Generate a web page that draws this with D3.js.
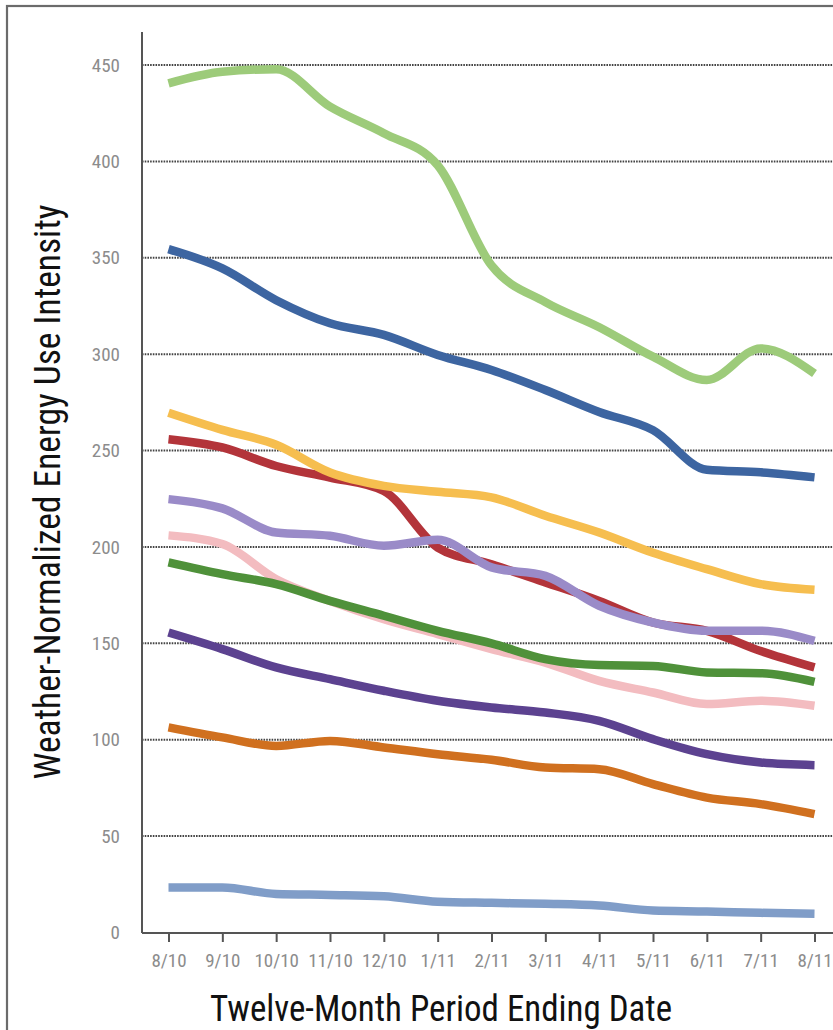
<!DOCTYPE html>
<html>
<head>
<meta charset="utf-8">
<script src="https://cdn.jsdelivr.net/npm/d3@7/dist/d3.min.js"></script>
<style>
  html, body { margin: 0; padding: 0; background: #fff; }
  svg { display: block; }
  .narrow { font-family: 'Liberation Sans Narrow', 'Arial Narrow', 'Roboto Condensed', sans-serif; }
</style>
</head>
<body>
<svg id="chart" width="833" height="1030"></svg>
<script>
const categories = ["8/10","9/10","10/10","11/10","12/10","1/11","2/11","3/11","4/11","5/11","6/11","7/11","8/11"];
const yTicks = [0, 50, 100, 150, 200, 250, 300, 350, 400, 450];

const lightBlue   = [23.4, 23.4, 20, 19.5, 18.8, 16, 15.4, 14.9, 14, 11.4, 10.9, 10.2, 9.7];
const orange      = [106.4, 101.2, 96.8, 99.4, 96, 92.5, 89.6, 85.6, 84.7, 77, 70, 66.6, 61.4];
const darkPurple  = [155.6, 147, 137.5, 131.4, 125.4, 120.2, 116.7, 114.1, 109.8, 100.3, 92.5, 88.2, 86.8];
const pink        = [206, 201.5, 183.3, 172, 162.5, 154.8, 147, 140, 130.5, 124.5, 118.5, 120.2, 117.6];
const darkGreen   = [192, 185.9, 180.7, 172, 164.3, 156.5, 150, 141.8, 138.7, 138.3, 134.9, 134.5, 130];
const red         = [255.9, 251.6, 242, 236, 229, 199.7, 191, 181.6, 172, 160.8, 156.5, 146, 137.5];
const yellow      = [269.6, 260.7, 253, 238.6, 231.7, 228.6, 225.7, 216.2, 207.5, 197, 188.5, 180.7, 177.8];
const lightPurple = [224.8, 220, 207.5, 205.8, 200.6, 203.7, 189.4, 185, 169.5, 160.8, 156.5, 156.5, 151.3];
const blue        = [354.5, 344.5, 328, 316, 310, 299.6, 291.8, 281.4, 270, 260.6, 240, 238.7, 236.1];
const lightGreen  = [440.5, 446.5, 447.8, 428.4, 414.6, 398, 346, 327, 314, 298.7, 286.6, 303, 290];

const seriesList = [
  { name: "lightBlue", values: lightBlue, color: "#809dc8" },
  { name: "orange", values: orange, color: "#d0701f" },
  { name: "darkPurple", values: darkPurple, color: "#5c4290" },
  { name: "pink", values: pink, color: "#f3bcc0" },
  { name: "darkGreen", values: darkGreen, color: "#4f913a" },
  { name: "red", values: red, color: "#b3343a" },
  { name: "yellow", values: yellow, color: "#f6be4f" },
  { name: "lightPurple", values: lightPurple, color: "#9a8bc8" },
  { name: "blue", values: blue, color: "#3d65a1" },
  { name: "lightGreen", values: lightGreen, color: "#9dcb7a" }
];

const svg = d3.select("#chart");

// frame
svg.append("rect")
  .attr("x", 7).attr("y", 6).attr("width", 900).attr("height", 1100)
  .attr("fill", "none").attr("stroke", "#6b6b6b").attr("stroke-width", 2.2);

const x = d3.scalePoint().domain(categories).range([168.5, 814.5]);
const y = d3.scaleLinear().domain([0, 450]).range([932.5, 65]);
const axisX0 = 142, axisRight = 833;

// gridlines
svg.append("g").selectAll("line")
  .data(yTicks.filter(d => d > 0))
  .join("line")
  .attr("x1", axisX0).attr("x2", axisRight)
  .attr("y1", d => y(d)).attr("y2", d => y(d))
  .attr("stroke", "#444").attr("stroke-width", 2)
  .attr("stroke-dasharray", "1.6,1.1");

// y axis
const yAxis = d3.axisLeft(y).tickValues(yTicks).tickSize(0).tickPadding(22);
const gy = svg.append("g").attr("transform", `translate(${axisX0},0)`).call(yAxis);
gy.select(".domain").remove();
gy.selectAll("text").attr("class", "narrow").attr("font-size", 19).attr("fill", "#8c8c8c");
svg.append("line").attr("x1", axisX0).attr("x2", axisX0).attr("y1", 32).attr("y2", 933)
  .attr("stroke", "#555").attr("stroke-width", 2);

// x axis
const xAxis = d3.axisBottom(x).tickSize(9).tickPadding(12);
const gx = svg.append("g").attr("transform", `translate(0,933)`).call(xAxis);
gx.select(".domain").remove();
gx.selectAll(".tick line").attr("stroke", "#555").attr("stroke-width", 2);
gx.selectAll("text").attr("class", "narrow").attr("font-size", 19).attr("fill", "#8c8c8c");
svg.append("line").attr("x1", axisX0).attr("x2", axisRight).attr("y1", 933).attr("y2", 933)
  .attr("stroke", "#555").attr("stroke-width", 2);

// lines
const line = d3.line()
  .x((d, i) => x(categories[i]))
  .y(d => y(d))
  .curve(d3.curveMonotoneX);

svg.append("g").selectAll("path")
  .data(seriesList)
  .join("path")
  .attr("d", d => line(d.values))
  .attr("fill", "none")
  .attr("stroke", d => d.color)
  .attr("stroke-width", 8.5)
  .attr("stroke-linejoin", "round")
  .attr("stroke-linecap", "butt");

// titles
svg.append("text")
  .attr("class", "narrow")
  .attr("x", 441).attr("y", 1021)
  .attr("text-anchor", "middle")
  .attr("font-size", 36)
  .attr("fill", "#111")
  .attr("textLength", 462).attr("lengthAdjust", "spacingAndGlyphs")
  .text("Twelve-Month Period Ending Date");

svg.append("text")
  .attr("class", "narrow")
  .attr("transform", "translate(60,492) rotate(-90)")
  .attr("text-anchor", "middle")
  .attr("font-size", 37)
  .attr("fill", "#111")
  .attr("textLength", 575).attr("lengthAdjust", "spacingAndGlyphs")
  .text("Weather-Normalized Energy Use Intensity");
</script>
</body>
</html>
